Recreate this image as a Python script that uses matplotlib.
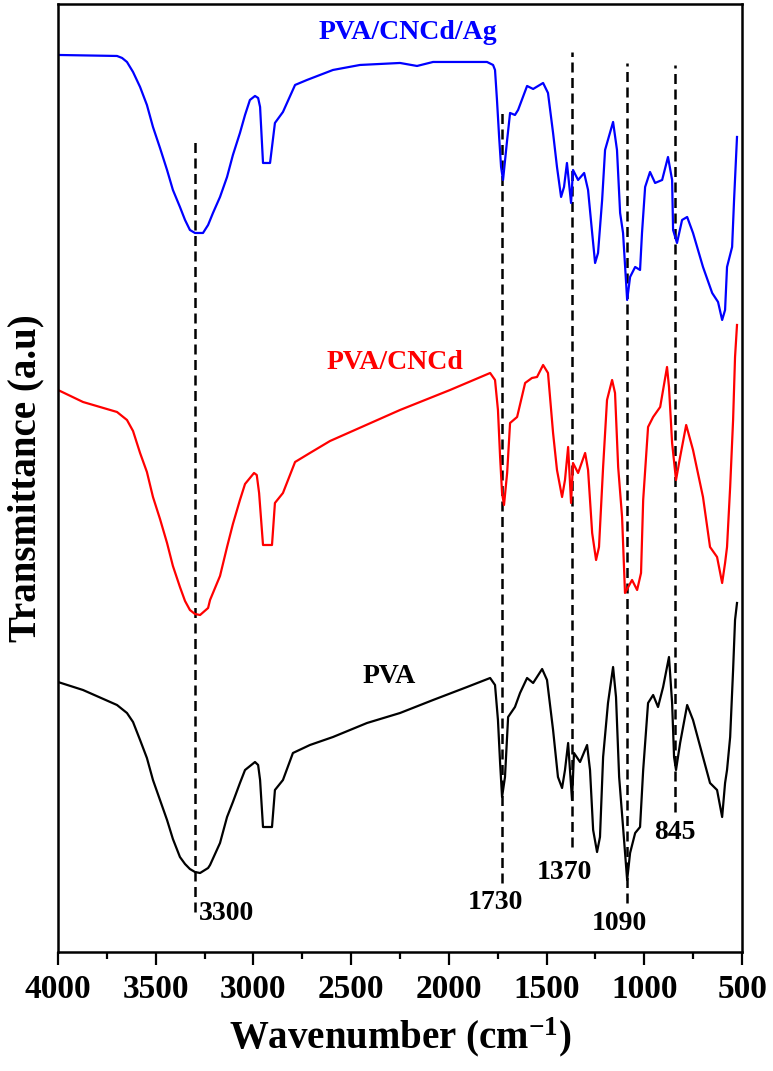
import matplotlib
matplotlib.use("Agg")
import matplotlib.pyplot as plt
from matplotlib.ticker import MultipleLocator

plt.rcParams['font.family'] = ['Liberation Serif', 'DejaVu Serif']
plt.rcParams['font.weight'] = 'bold'
plt.rcParams['mathtext.fontset'] = 'custom'
plt.rcParams['mathtext.rm'] = 'Liberation Serif:bold'
plt.rcParams['mathtext.default'] = 'rm'

# FTIR spectra (wavenumber in cm-1, transmittance in a.u., offset)
wn_ag = [4000, 3698, 3672, 3647, 3616, 3580, 3545, 3514, 3478, 3442, 3412, 3376, 3350, 3325,
         3299, 3258, 3232, 3207, 3171, 3135, 3105, 3069, 3043, 3018, 2992, 2976,
         2966, 2951, 2915, 2890, 2849, 2787, 2726, 2593, 2455, 2250, 2163, 2081, 1805, 1774,
         1764, 1754, 1743, 1733, 1723, 1702, 1687, 1662, 1646, 1600, 1569, 1518, 1493, 1467,
         1447, 1426, 1411, 1396, 1375, 1365, 1339, 1308, 1288, 1267, 1252, 1237, 1216, 1201,
         1160, 1140, 1124, 1109, 1088, 1073, 1047, 1022, 1012, 996, 971, 945, 909, 879, 858,
         853, 833, 807, 781, 751, 700, 653, 623, 602, 587, 577, 551, 541, 526]
t_ag = [89.7, 89.6, 89.4, 89.0, 88.0, 86.5, 84.7, 82.5, 80.4, 78.2, 76.2, 74.5, 73.2, 72.2,
        71.9, 71.9, 72.7, 73.9, 75.5, 77.5, 79.7, 81.9, 83.7, 85.2, 85.6, 85.4,
        84.5, 78.9, 78.9, 82.9, 84.0, 86.7, 87.2, 88.2, 88.7, 88.9, 88.6, 89.0, 89.0, 88.7,
        88.2, 85.2, 81.5, 78.5, 77.2, 81.2, 83.9, 83.7, 84.2, 86.6, 86.3, 86.9, 85.9, 81.9,
        78.5, 75.5, 76.5, 78.9, 74.9, 78.2, 77.2, 77.9, 76.2, 71.9, 68.9, 69.9, 75.2, 80.2,
        83.0, 80.2, 73.9, 71.9, 65.2, 67.5, 68.5, 68.2, 71.9, 76.5, 78.0, 76.9, 77.2, 79.5, 77.2,
        72.2, 70.9, 73.2, 73.5, 71.9, 68.5, 65.9, 65.0, 63.2, 64.2, 68.5, 70.5, 75.2, 81.5]

wn_cncd = [4000, 3872, 3698, 3647, 3616, 3580, 3545, 3514, 3478, 3442, 3412, 3376, 3350, 3325,
           3299, 3273, 3232, 3222, 3171, 3135, 3105, 3069, 3043, 2997, 2983,
           2971, 2951, 2905, 2890, 2849, 2787, 2711, 2608, 2250, 1994, 1789, 1764, 1749, 1738,
           1728, 1718, 1702, 1687, 1651, 1610, 1575, 1549, 1518, 1493, 1467, 1447, 1421, 1406,
           1390, 1375, 1365, 1339, 1303, 1288, 1267, 1247, 1232, 1211, 1191, 1165, 1150, 1134,
           1114, 1099, 1063, 1037, 1017, 1006, 981, 955, 919, 884, 874, 858, 838, 817, 786,
           751, 700, 664, 628, 602, 587, 577, 561, 546, 536, 526]
t_cncd = [56.2, 55.0, 54.0, 53.2, 52.1, 49.9, 48.0, 45.5, 43.3, 40.9, 38.6, 36.5, 35.1, 34.2,
          33.8, 33.7, 34.4, 35.2, 37.6, 40.5, 42.8, 45.2, 46.8, 47.9, 47.7,
          45.9, 40.7, 40.7, 44.9, 45.9, 49.0, 49.9, 51.1, 54.2, 56.2, 57.9, 57.2, 54.2, 49.5,
          45.9, 44.7, 47.9, 52.9, 53.5, 56.9, 57.4, 57.5, 58.7, 57.9, 51.9, 48.2, 45.5, 47.2,
          50.5, 44.9, 48.9, 47.9, 49.9, 48.2, 41.9, 39.2, 40.5, 48.5, 55.2, 57.2, 55.9, 48.5,
          43.5, 35.9, 37.2, 36.2, 37.9, 45.2, 52.5, 53.5, 54.5, 58.5, 56.5, 50.9, 47.2, 49.5, 52.7,
          50.2, 45.5, 40.5, 39.5, 36.9, 38.9, 40.5, 46.5, 53.2, 59.5, 62.7]

wn_pva = [4000, 3872, 3698, 3647, 3616, 3580, 3545, 3514, 3478, 3442, 3412, 3376, 3350, 3325,
          3299, 3273, 3232, 3222, 3171, 3135, 3105, 3069, 3043, 2992, 2976,
          2966, 2951, 2905, 2890, 2849, 2798, 2711, 2593, 2419, 2250, 2081, 1907, 1789, 1764,
          1749, 1738, 1728, 1713, 1697, 1662, 1636, 1600, 1569, 1523, 1498, 1467, 1442, 1421,
          1406, 1390, 1370, 1360, 1329, 1293, 1278, 1262, 1242, 1227, 1211, 1186, 1160, 1145,
          1129, 1109, 1088, 1073, 1047, 1022, 1006, 981, 955, 930, 904, 874, 858, 848, 838,
          817, 781, 751, 700, 664, 628, 602, 587, 577, 561, 546, 536, 526]
t_pva = [27.0, 26.2, 24.7, 23.9, 23.0, 21.2, 19.4, 17.2, 15.2, 13.2, 11.3, 9.5, 8.8, 8.3,
         8.0, 7.9, 8.4, 8.7, 10.9, 13.5, 15.0, 16.9, 18.2, 19.0, 18.7,
         17.2, 12.5, 12.5, 16.2, 17.2, 19.9, 20.7, 21.5, 22.9, 23.9, 25.2, 26.5, 27.4, 26.7,
         23.2, 18.9, 15.5, 17.5, 23.5, 24.5, 25.9, 27.4, 26.9, 28.3, 27.2, 22.2, 17.5, 16.4,
         18.2, 20.9, 15.2, 19.9, 19.0, 20.7, 18.2, 12.2, 10.0, 11.5, 19.5, 24.9, 28.5, 25.5,
         17.5, 12.5, 7.2, 9.9, 11.9, 12.5, 18.2, 24.9, 25.7, 24.5, 26.5, 29.5, 24.9, 19.5, 18.2,
         20.9, 24.7, 23.2, 19.5, 16.9, 16.2, 13.5, 16.9, 18.2, 21.5, 28.2, 33.2, 34.9]

# marked bands and the vertical extent of their guide lines
peaks = [3300, 1730, 1370, 1090, 845]
peak_top = [81.5, 84.4, 90.0, 88.9, 88.7]
peak_bottom = [4.0, 6.9, 10.5, 4.9, 14.0]
peak_label_x = [3278, 1764, 1411, 1129, 843]
peak_label_y = [3.9, 5.0, 8.0, 2.9, 12.0]

fig = plt.figure(figsize=(7.73, 10.71), dpi=100)
ax = fig.add_axes([0.075, 0.1111, 0.885, 0.8852])

for p, top, bot in zip(peaks, peak_top, peak_bottom):
    ax.plot([p, p], [bot, top], color='black', lw=1.8, dashes=(4, 2.2), zorder=1)

ax.plot(wn_ag, t_ag, color='#0000ff', lw=1.6, zorder=2)
ax.plot(wn_cncd, t_cncd, color='#ff0000', lw=1.6, zorder=2)
ax.plot(wn_pva, t_pva, color='black', lw=1.6, zorder=2)

for p, lx, ly in zip(peaks, peak_label_x, peak_label_y):
    ha = 'left' if p == 3300 else 'center'
    ax.text(lx, ly, str(p), fontsize=20, fontweight='bold', ha=ha, va='center')

ax.text(2209, 91.9, 'PVA/CNCd/Ag', color='#0000ff', fontsize=20, fontweight='bold',
        ha='center', va='center')
ax.text(2276, 58.9, 'PVA/CNCd', color='#ff0000', fontsize=20, fontweight='bold',
        ha='center', va='center')
ax.text(2306, 27.5, 'PVA', color='black', fontsize=20, fontweight='bold',
        ha='center', va='center')

ax.set_xlim(4000, 500)
ax.set_ylim(0, 94.8)
ax.xaxis.set_major_locator(MultipleLocator(500))
ax.xaxis.set_minor_locator(MultipleLocator(250))
ax.tick_params(axis='x', which='major', direction='out', length=9.5, width=1.6,
               labelsize=24, pad=6)
ax.tick_params(axis='x', which='minor', direction='out', length=5, width=1.6)
ax.set_yticks([])
for s in ax.spines.values():
    s.set_linewidth(1.8)

ax.set_xlabel('Wavenumber (cm$^{-1}$)', fontsize=28, fontweight='bold', labelpad=8)
ax.set_ylabel('Transmittance (a.u)', fontsize=28, fontweight='bold', labelpad=10)

fig.savefig('out.png', dpi=100)
